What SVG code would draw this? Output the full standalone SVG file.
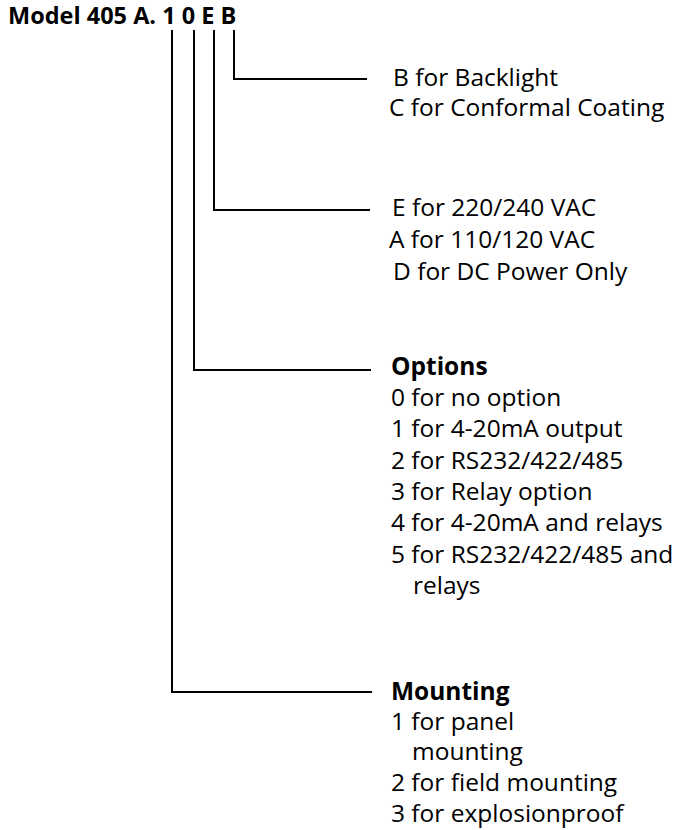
<svg xmlns="http://www.w3.org/2000/svg" width="685" height="830" viewBox="0 0 685 830">
<style>
text{font-family:"Open Sans","Noto Sans",sans-serif;font-size:24.5px;fill:#000}
.t{font-weight:bold;font-size:23.5px}
.b{font-weight:bold}
.ln{fill:none;stroke:#000;stroke-width:2}
</style>
<rect width="685" height="830" fill="#fff"/>
<g id="title"><text class="t" x="8" y="24">Model 405 A. 1 0 E B</text></g>
<g id="connectors">
<polyline class="ln" points="234,30 234,79 367,79"/>
<polyline class="ln" points="214,30 214,210 370,210"/>
<polyline class="ln" points="194,30 194,370 371,370"/>
<polyline class="ln" points="172,30 172,692 372,692"/>
</g>
<g id="backlight">
<text x="393" y="86">B for Backlight</text>
<text x="389" y="116">C for Conformal Coating</text>
</g>
<g id="power">
<text x="392" y="216">E for 220/240 VAC</text>
<text x="389" y="248">A for 110/120 VAC</text>
<text x="393" y="280">D for DC Power Only</text>
</g>
<g id="options">
<text class="b" x="391" y="375">Options</text>
<text x="391" y="406">0 for no option</text>
<text x="391" y="437">1 for 4-20mA output</text>
<text x="391" y="469">2 for RS232/422/485</text>
<text x="391" y="500">3 for Relay option</text>
<text x="391" y="531">4 for 4-20mA and relays</text>
<text x="391" y="563">5 for RS232/422/485 and</text>
<text x="413" y="594">relays</text>
</g>
<g id="mounting">
<text class="b" x="391" y="700">Mounting</text>
<text x="391" y="730">1 for panel</text>
<text x="412" y="760">mounting</text>
<text x="391" y="791">2 for field mounting</text>
<text x="391" y="822">3 for explosionproof</text>
</g>
</svg>
